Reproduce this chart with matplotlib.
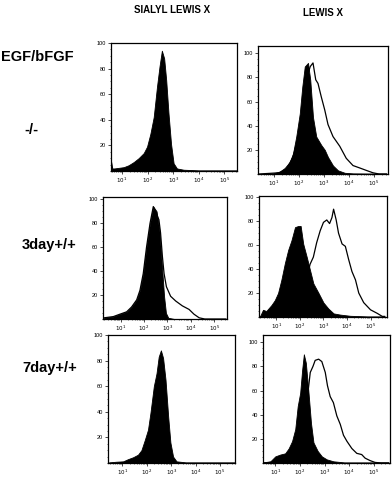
import numpy as np
import matplotlib
matplotlib.use("Agg")
import matplotlib.pyplot as plt
from matplotlib.ticker import FixedLocator, NullFormatter, LogLocator

plt.rcParams['font.family'] = ['Liberation Sans', 'DejaVu Sans']

# column / row labels
col_titles = ["SIALYL LEWIS X", "LEWIS X"]
row_labels = ["-/-", "3day+/+", "7day+/+"]
condition_label = "EGF/bFGF"

# histogram traces, x given as log10 of fluorescence, y as counts
# row 1, sialyl lewis x (control only)
slx_ctrl_x_1 = [0.58, 0.62, 0.7, 1.07, 1.26, 1.46, 1.65, 1.85, 1.98, 2.11, 2.24, 2.37, 2.47, 2.56,
                2.65, 2.73, 2.82, 2.92, 3.02, 3.15, 3.41, 4.0, 5.5]
slx_ctrl_y_1 = [7, 2, 2, 3, 4.5, 7, 10, 14, 19, 29, 42, 66, 82, 94,
                88, 71, 45, 21, 6, 2, 1, 0.5, 0.5]

# row 1, lewis x
lx_ctrl_x_1 = [0.4, 0.96, 1.23, 1.43, 1.63, 1.76, 1.89, 2.03, 2.13, 2.23, 2.36, 2.45, 2.56, 2.69,
               2.89, 3.03, 3.16, 3.36, 3.56, 3.83, 4.16, 5.5]
lx_ctrl_y_1 = [0, 0.5, 2, 5, 10, 17, 31, 50, 72, 89, 92, 78, 47, 31,
               24, 20, 14, 7, 3, 1, 0.5, 0.3]
lx_samp_x_1 = [0.4, 1.2, 1.5, 1.76, 2.03, 2.23, 2.36, 2.45, 2.56, 2.67, 2.76, 2.89, 3.03, 3.16,
               3.36, 3.63, 3.89, 4.16, 4.43, 4.69, 4.96, 5.2, 5.5]
lx_samp_y_1 = [0, 1, 4, 14, 35, 64, 83, 89, 92, 78, 75, 64, 53, 41,
               31, 23, 13, 7, 5, 3, 1, 0, 0]

# row 2, sialyl lewis x
slx_ctrl_x_2 = [0.3, 0.69, 0.97, 1.26, 1.47, 1.69, 1.83, 1.97, 2.11, 2.26, 2.4, 2.54, 2.66, 2.76,
                2.86, 2.94, 3.04, 3.3, 5.5]
slx_ctrl_y_2 = [1, 2, 4, 6, 10, 16, 24, 38, 60, 80, 94, 90, 74, 47,
                19, 5, 1, 0, 0]
slx_samp_x_2 = [0.3, 0.69, 0.97, 1.26, 1.47, 1.69, 1.83, 1.97, 2.11, 2.26, 2.4, 2.53, 2.64, 2.71,
                2.79, 2.86, 2.96, 3.14, 3.36, 3.64, 3.93, 4.14, 4.36, 4.6, 5.5]
slx_samp_y_2 = [1, 2, 4, 6, 10, 16, 24, 38, 60, 80, 94, 88, 83, 72,
                52, 38, 27, 19, 15, 11, 8, 4, 1, 0, 0]

# row 2, lewis x
lx_ctrl_x_2 = [0.3, 0.43, 0.57, 0.79, 0.93, 1.07, 1.21, 1.36, 1.5, 1.64, 1.79, 1.93, 2.03, 2.14,
               2.29, 2.43, 2.57, 2.79, 3.0, 3.21, 3.43, 3.71, 4.14, 4.86, 5.6]
lx_ctrl_y_2 = [0.5, 6, 5, 10, 14, 20, 31, 45, 56, 64, 75, 76, 76, 61,
               50, 39, 28, 20, 12, 7, 3, 2, 1, 0.5, 0.5]
lx_samp_x_2 = [0.3, 1.0, 1.5, 1.93, 2.21, 2.36, 2.43, 2.57, 2.71, 2.86, 3.0, 3.14, 3.26, 3.36,
               3.43, 3.54, 3.64, 3.79, 3.93, 4.07, 4.21, 4.36, 4.5, 4.71, 5.0, 5.29, 5.5, 5.6]
lx_samp_y_2 = [0, 1, 3, 10, 25, 38, 44, 50, 62, 72, 79, 81, 78, 83,
               90, 81, 70, 61, 59, 48, 38, 31, 20, 12, 6, 3, 0.5, 0.5]

# row 3, sialyl lewis x
slx_ctrl_x_3 = [0.45, 0.75, 1.03, 1.23, 1.44, 1.64, 1.78, 1.92, 2.05, 2.15, 2.29, 2.4, 2.49, 2.58,
                2.67, 2.77, 2.88, 2.97, 3.08, 3.22, 3.6, 5.6]
slx_ctrl_y_3 = [0.5, 1, 1.3, 3, 4.5, 6.5, 10, 18, 26, 39, 60, 70, 83, 88,
                82, 65, 36, 16, 5, 1.3, 0.5, 0.5]

# row 3, lewis x
lx_ctrl_x_3 = [0.5, 0.8, 1.0, 1.2, 1.4, 1.54, 1.68, 1.81, 1.91, 2.01, 2.09, 2.16, 2.24, 2.35,
               2.45, 2.55, 2.72, 2.89, 3.09, 3.36, 3.8, 5.6]
lx_ctrl_y_3 = [0.5, 1.4, 5.5, 7, 8, 12, 18, 28, 47, 58, 77, 90, 83, 58,
               33, 17, 10, 5.5, 3, 1.4, 0.5, 0.5]
lx_samp_x_3 = [0.5, 1.2, 1.55, 1.81, 2.0, 2.14, 2.28, 2.42, 2.53, 2.62, 2.76, 2.89, 3.03, 3.12,
               3.23, 3.36, 3.5, 3.64, 3.77, 3.91, 4.11, 4.31, 4.51, 4.65, 4.85, 5.05, 5.3, 5.6]
lx_samp_y_3 = [0, 1, 2, 10, 25, 40, 50, 75, 80, 85, 86, 84, 75, 64,
               55, 50, 39, 32, 23, 18, 12, 8, 7, 4, 2, 0.5, 0, 0]

panels = [
    (slx_ctrl_x_1, slx_ctrl_y_1, None, None),
    (lx_ctrl_x_1, lx_ctrl_y_1, lx_samp_x_1, lx_samp_y_1),
    (slx_ctrl_x_2, slx_ctrl_y_2, slx_samp_x_2, slx_samp_y_2),
    (lx_ctrl_x_2, lx_ctrl_y_2, lx_samp_x_2, lx_samp_y_2),
    (slx_ctrl_x_3, slx_ctrl_y_3, None, None),
    (lx_ctrl_x_3, lx_ctrl_y_3, lx_samp_x_3, lx_samp_y_3),
]

# axes boxes in pixels (left, top, right, bottom), x range (log10), y top
W, H = 392, 483
boxes = [(111, 43, 237, 171), (258, 46, 388, 174),
         (103, 197, 227, 319), (259, 196, 387, 317),
         (108, 335, 235, 463), (263, 335, 390, 463)]
xranges = [(0.57, 5.5), (0.36, 5.56), (0.25, 5.55), (0.26, 5.7), (0.41, 5.62), (0.5, 5.66)]
ytops = [100, 106, 102, 101, 100, 106]

fig = plt.figure(figsize=(W / 100, H / 100), dpi=100)

for i, (cx, cy, sx, sy) in enumerate(panels):
    l, t, r, b = boxes[i]
    ax = fig.add_axes([l / W, 1 - b / H, (r - l) / W, (b - t) / H])
    ax.set_xscale('log')
    cxv = 10 ** np.array(cx)
    ax.fill_between(cxv, cy, 0, color='black', lw=0.6, edgecolor='black')
    if sx is not None:
        ax.plot(10 ** np.array(sx), sy, color='black', lw=0.9)
    ax.set_xlim(10 ** xranges[i][0], 10 ** xranges[i][1])
    ax.set_ylim(0, ytops[i])
    ax.set_xticks([10, 100, 1000, 10000, 100000])
    ax.set_xticklabels([r'$10^1$', r'$10^2$', r'$10^3$', r'$10^4$', r'$10^5$'])
    ax.xaxis.set_minor_locator(LogLocator(base=10, subs=np.arange(2, 10)))
    ax.xaxis.set_minor_formatter(NullFormatter())
    ax.set_yticks([20, 40, 60, 80, 100])
    ax.yaxis.set_minor_locator(FixedLocator(np.arange(0, 101, 5)))
    ax.tick_params(axis='both', which='major', length=2, width=0.5, labelsize=4, pad=1.5)
    ax.tick_params(axis='both', which='minor', length=1, width=0.4)
    for s in ax.spines.values():
        s.set_linewidth(0.9)

fig.text(172 / W, 1 - 10 / H, col_titles[0], ha='center', va='center',
         fontsize=7, fontweight='bold')
fig.text(323 / W, 1 - 13 / H, col_titles[1], ha='center', va='center',
         fontsize=7, fontweight='bold')
fig.text(37 / W, 1 - 57 / H, condition_label, ha='center', va='center',
         fontsize=10.5, fontweight='bold')
row_y = [130, 245, 368]
row_x = [31, 49, 50]
for lab, xx, yy in zip(row_labels, row_x, row_y):
    fig.text(xx / W, 1 - yy / H, lab, ha='center', va='center',
             fontsize=10.5, fontweight='bold')

fig.savefig('out.png', dpi=100)
